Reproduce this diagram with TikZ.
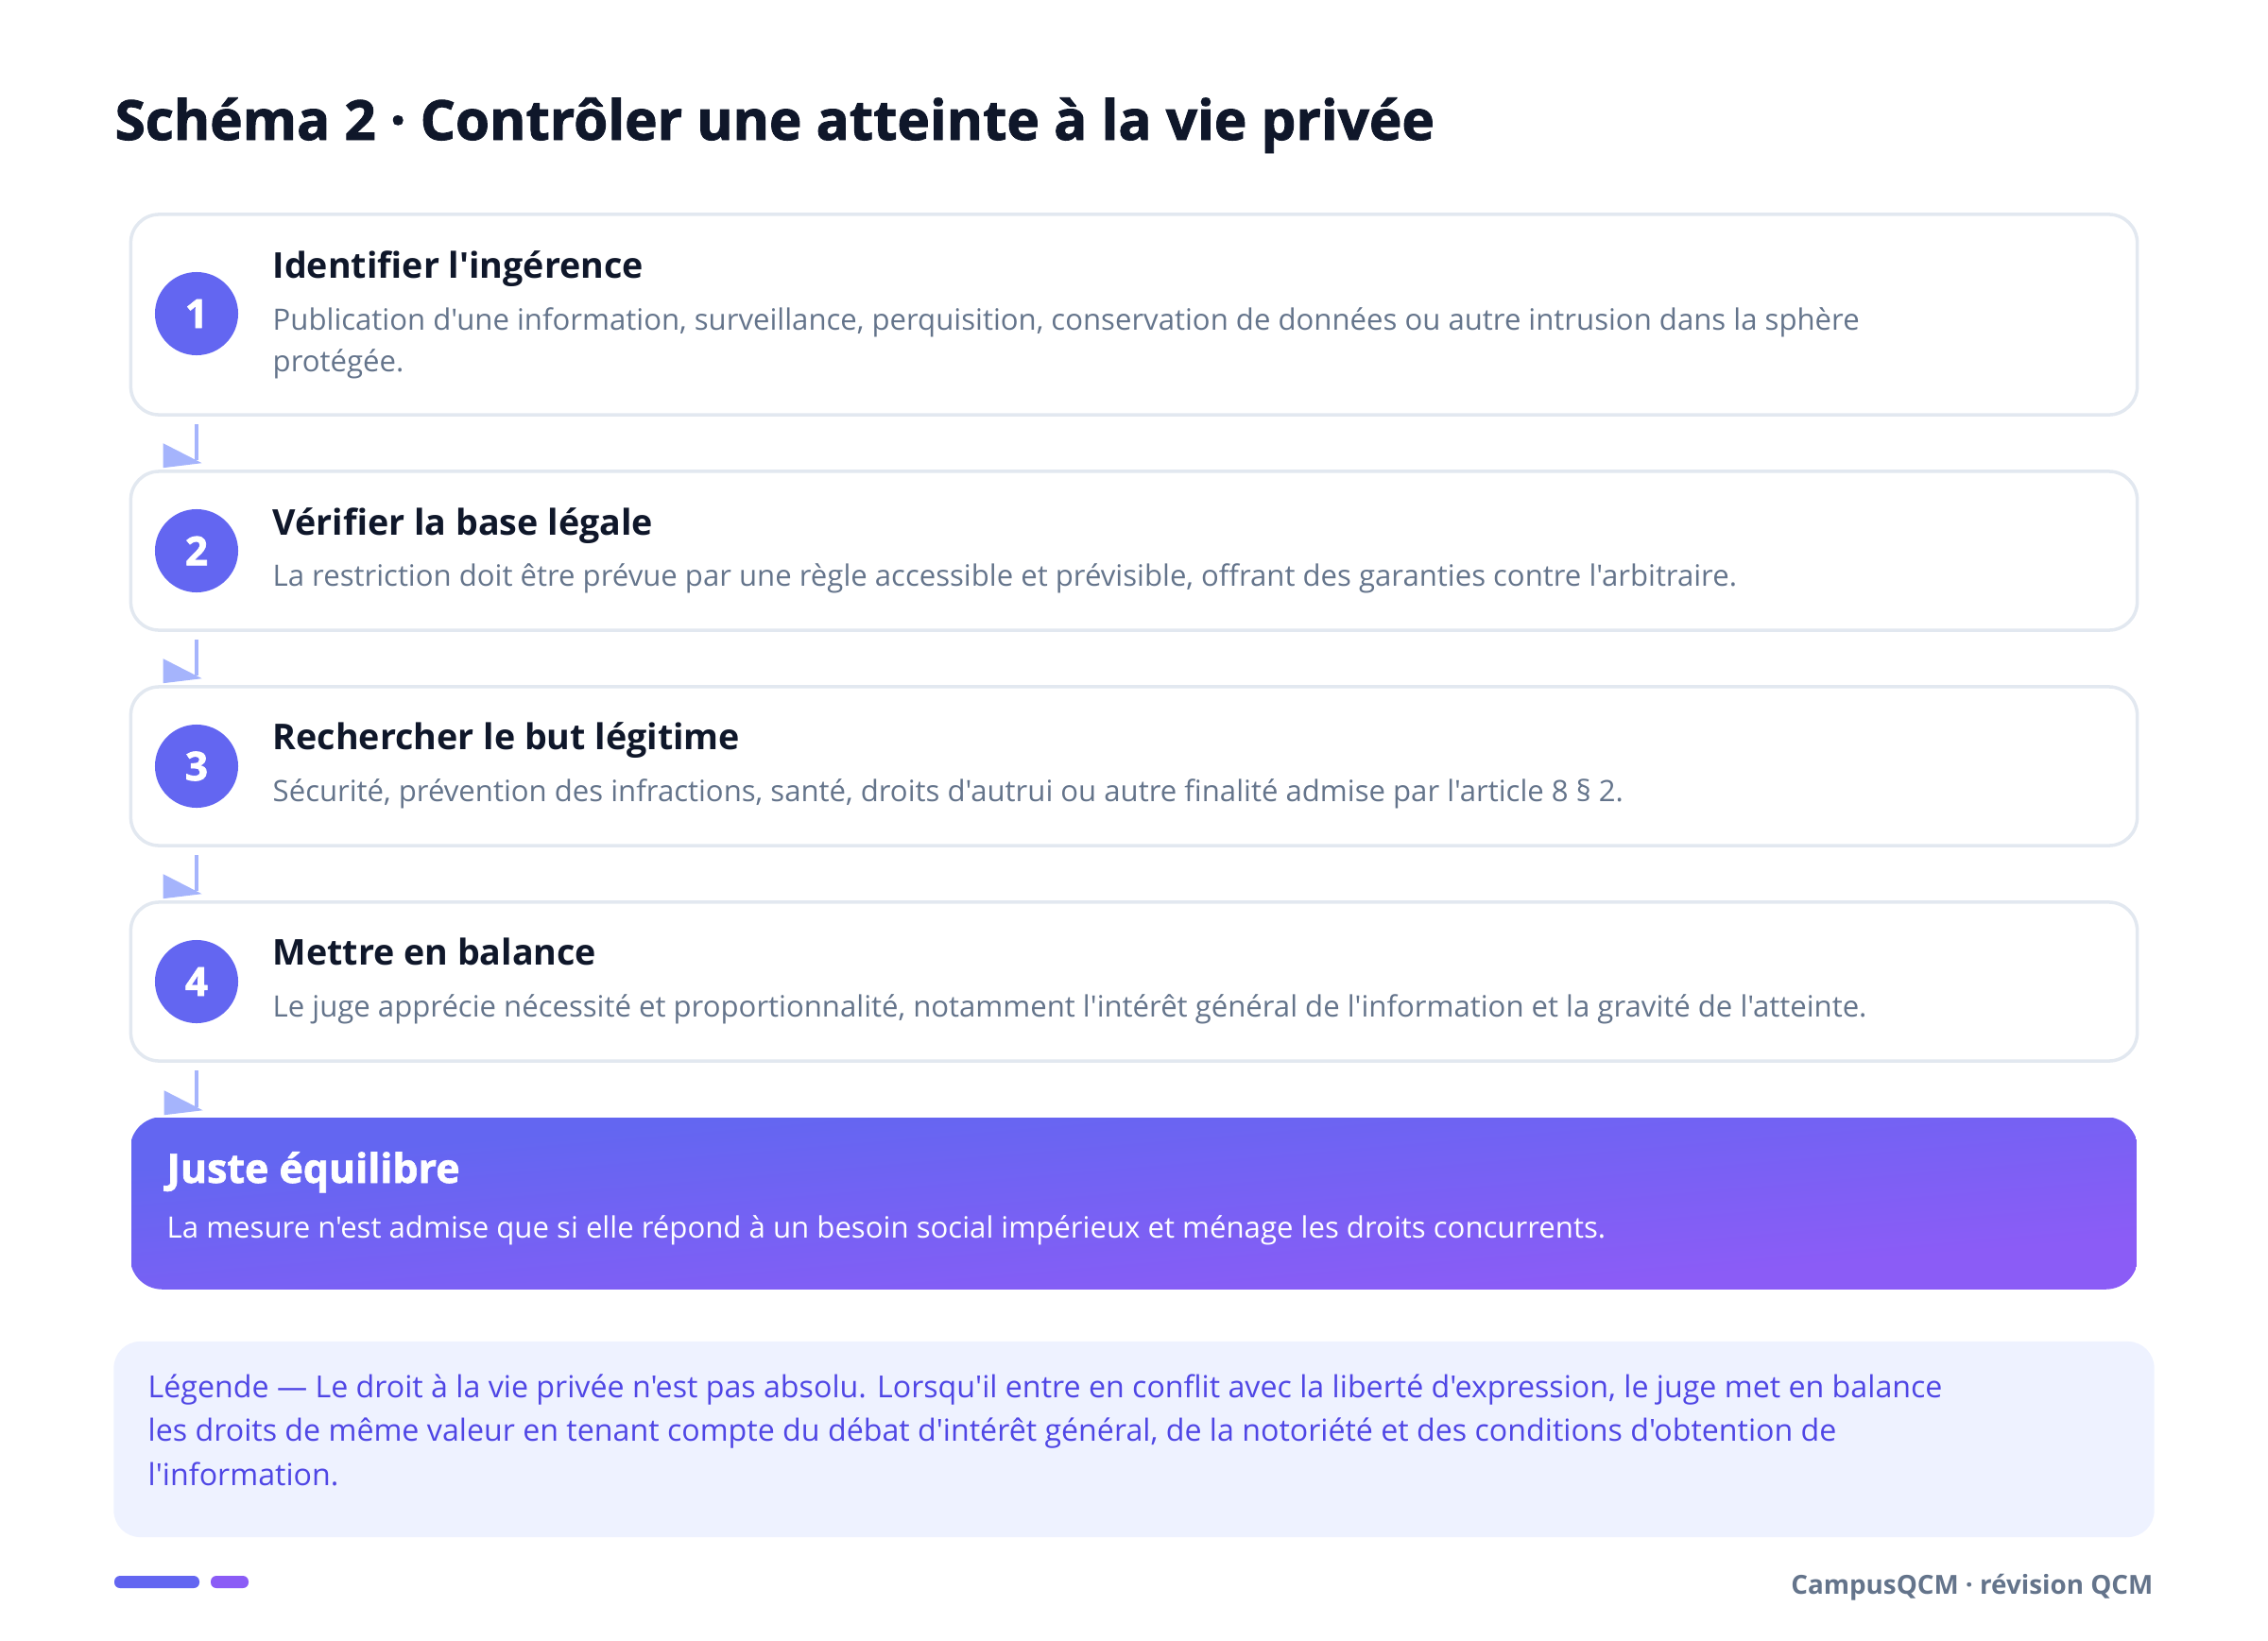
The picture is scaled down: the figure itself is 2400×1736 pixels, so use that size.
\documentclass[tikz,border=0pt]{standalone}
\usepackage{fontspec}
\setmainfont{Open Sans}[Ligatures=TeXOff]
\newfontfamily\heavyfont{Open Sans}[Ligatures=TeXOff, BoldFeatures={FakeBold=1.6}]
\usepackage{xcolor}
\usetikzlibrary{positioning}
\definecolor{indigoA}{HTML}{6366F1}
\definecolor{violetA}{HTML}{8B5CF6}
\definecolor{arrowC}{HTML}{A5B4FC}
\definecolor{cardline}{HTML}{E2E8F0}
\definecolor{ink}{HTML}{0F172A}
\definecolor{slate}{HTML}{64748B}
\definecolor{legfill}{HTML}{EEF2FF}
\definecolor{legtext}{HTML}{4F46E5}

\begin{document}
\begin{tikzpicture}[x=0.01cm, y=-0.01cm,
	card/.style={fill=white, draw=cardline, line width=1pt, rounded corners=0.3cm, minimum width=21.22cm, minimum height=1.68cm},
	stepdot/.style={fill=indigoA, shape=circle, minimum size=0.88cm, inner sep=0, text=white, font=\heavyfont\bfseries\fontsize{12}{14}\selectfont},
	steptitle/.style={anchor=base west, inner sep=0, text=ink, font=\bfseries\fontsize{10.7}{13}\selectfont},
	stepdesc/.style={anchor=base west, inner sep=0, text=slate, align=left, font=\fontsize{8.85}{12.5}\selectfont},
	link/.style={draw=arrowC, line width=1.4pt, shorten <=0.08cm, shorten >=0.1cm},
	tip/.style={fill=arrowC},
]
	\useasboundingbox (0,0) rectangle (2400,1736);
	\node [anchor=base west, inner sep=0, text=ink, font=\heavyfont\bfseries\fontsize{16.6}{20}\selectfont] (title) at (121, 148) {Schéma 2 · Contrôler une atteinte à la vie privée};

	\node [card, minimum height=2.12cm] (c1) at (1200, 333) {};
	\node [stepdot] (d1) at (208, 332) {1};
	\node [steptitle] (t1) at (288, 294) {Identifier l'ingérence};
	\node [stepdesc] (s1) at (288, 393) {Publication d'une information, surveillance, perquisition, conservation de données ou autre intrusion dans la sphère\\protégée.};

	\node [card] (c2) at (1200, 583) {};
	\node [stepdot] (d2) at (208, 583) {2};
	\node [steptitle] (t2) at (288, 566) {Vérifier la base légale};
	\node [stepdesc] (s2) at (288, 620) {La restriction doit être prévue par une règle accessible et prévisible, offrant des garanties contre l'arbitraire.};

	\node [card] (c3) at (1200, 811) {};
	\node [stepdot] (d3) at (208, 811) {3};
	\node [steptitle] (t3) at (288, 793) {Rechercher le but légitime};
	\node [stepdesc] (s3) at (288, 848) {Sécurité, prévention des infractions, santé, droits d'autrui ou autre finalité admise par l'article 8 § 2.};

	\node [card] (c4) at (1200, 1039) {};
	\node [stepdot] (d4) at (208, 1039) {4};
	\node [steptitle] (t4) at (288, 1021) {Mettre en balance};
	\node [stepdesc] (s4) at (288, 1076) {Le juge apprécie nécessité et proportionnalité, notamment l'intérêt général de l'information et la gravité de l'atteinte.};

	\node [shape=rectangle, minimum width=21.22cm, minimum height=1.81cm] (c5) at (1200, 1273.5) {};
	\begin{scope}
		\clip [rounded corners=0.34cm] (c5.north west) rectangle (c5.south east);
		\begin{scope}[transform canvas={shift={(c5.center)}, xscale=11.72}]
			\shade [top color=indigoA, bottom color=violetA, shading angle=45] (-90.5,-90.5) rectangle (90.5,90.5);
		\end{scope}
	\end{scope}
	\node [anchor=base west, inner sep=0, text=white, font=\heavyfont\bfseries\fontsize{12.2}{14}\selectfont] (t5) at (176, 1252) {Juste équilibre};
	\node [anchor=base west, inner sep=0, text=white, font=\fontsize{8.86}{11}\selectfont] (s5) at (176, 1310) {La mesure n'est admise que si elle répond à un besoin social impérieux et ménage les droits concurrents.};

	\draw [link] (c1.south -| d1) -- (c2.north -| d1);
	\fill [tip] ([shift={(36,-28)}]c2.north west) -- ([shift={(77,-7)}]c2.north west) -- ([shift={(36,-2)}]c2.north west) -- cycle;
	\draw [link] (c2.south -| d2) -- (c3.north -| d2);
	\fill [tip] ([shift={(36,-28)}]c3.north west) -- ([shift={(77,-7)}]c3.north west) -- ([shift={(36,-2)}]c3.north west) -- cycle;
	\draw [link] (c3.south -| d3) -- (c4.north -| d3);
	\fill [tip] ([shift={(36,-28)}]c4.north west) -- ([shift={(77,-7)}]c4.north west) -- ([shift={(36,-2)}]c4.north west) -- cycle;
	\draw [link] (c4.south -| d4) -- (c5.north -| d4);
	\fill [tip] ([shift={(36,-28)}]c5.north west) -- ([shift={(77,-7)}]c5.north west) -- ([shift={(36,-2)}]c5.north west) -- cycle;

	\node [fill=legfill, rounded corners=0.28cm, minimum width=21.58cm, minimum height=2.07cm] (leg) at (1200, 1523.5) {};
	\node [anchor=base west, inner sep=0, text=legtext, align=left, font=\fontsize{9.15}{13.1}\selectfont] (legtxt) at (156, 1572) {Légende — Le droit à la vie privée n'est pas absolu. Lorsqu'il entre en conflit avec la liberté d'expression, le juge met en balance\\les droits de même valeur en tenant compte du débat d'intérêt général, de la notoriété et des conditions d'obtention de\\l'information.};

	\fill [indigoA, rounded corners=0.06cm] (121, 1668) rectangle (211, 1681);
	\fill [violetA, rounded corners=0.06cm] (223, 1668) rectangle (263, 1681);
	\node [anchor=base east, inner sep=0, text=slate, font=\bfseries\fontsize{7.9}{10}\selectfont] (foot) at (2279, 1687) {CampusQCM · révision QCM};
\end{tikzpicture}
\end{document}
